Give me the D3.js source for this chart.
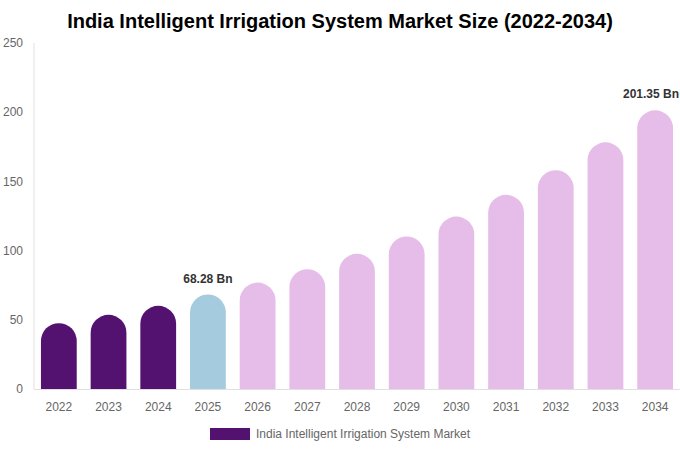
<!DOCTYPE html>
<html>
<head>
<meta charset="utf-8">
<script src="https://cdn.jsdelivr.net/npm/d3@7"></script>
<style>
  body { margin: 0; background: #fff; }
  svg { font-family: "Liberation Sans", Arial, sans-serif; }
</style>
</head>
<body>
<svg id="chart" width="680" height="450"></svg>
<script>
const years = ['2022', '2023', '2024', '2025', '2026', '2027', '2028', '2029', '2030', '2031', '2032', '2033', '2034'];
const values = [47.6, 53.6, 60.1, 68.28, 76.9, 86.6, 97.7, 110.2, 124.6, 140.3, 158.1, 178.3, 201.35];
const yTicks = [0, 50, 100, 150, 200, 250];
const labelled = { '2025': '68.28 Bn', '2034': '201.35 Bn' };

const width = 680, height = 450;
const margin = { top: 43, right: 0, bottom: 61, left: 34 };

const svg = d3.select('#chart');

const x = d3.scaleBand()
    .domain(years)
    .range([margin.left, width - margin.right])
    .paddingInner(0.28)
    .paddingOuter(0.14);

const y = d3.scaleLinear()
    .domain([0, 250])
    .range([height - margin.bottom, margin.top]);

const color = d => +d < 2025 ? '#541270' : (d === '2025' ? '#a5cbde' : '#e6bce8');

svg.append('text')
    .attr('x', width / 2)
    .attr('y', 28)
    .attr('text-anchor', 'middle')
    .attr('font-size', '20px')
    .attr('font-weight', 'bold')
    .attr('fill', '#000')
    .text('India Intelligent Irrigation System Market Size (2022-2034)');

// axes lines
svg.append('line')
    .attr('x1', margin.left).attr('x2', margin.left)
    .attr('y1', y(250)).attr('y2', y(0))
    .attr('stroke', '#e0e0e0');

svg.append('line')
    .attr('x1', margin.left).attr('x2', width)
    .attr('y1', y(0) + 0.5).attr('y2', y(0) + 0.5)
    .attr('stroke', '#e0e0e0');

svg.append('g')
    .selectAll('text')
    .data(yTicks)
    .join('text')
        .attr('x', 23)
        .attr('y', d => y(d))
        .attr('dy', '0.35em')
        .attr('text-anchor', 'end')
        .attr('font-size', '12px')
        .attr('fill', '#666')
        .text(d => d);

svg.append('g')
    .selectAll('text')
    .data(years)
    .join('text')
        .attr('x', d => x(d) + x.bandwidth() / 2)
        .attr('y', y(0) + 22)
        .attr('text-anchor', 'middle')
        .attr('font-size', '12px')
        .attr('fill', '#666')
        .text(d => d);

// rounded-top bars
const barPath = (d, i) => {
    const x0 = x(d), w = x.bandwidth(), r = w / 2;
    const top = y(values[i]), base = y(0);
    return `M${x0},${base} L${x0},${top + r} A${r},${r} 0 0 1 ${x0 + w},${top + r} L${x0 + w},${base} Z`;
};

svg.append('g')
    .selectAll('path')
    .data(years)
    .join('path')
        .attr('d', barPath)
        .attr('fill', d => color(d));

svg.append('g')
    .selectAll('text')
    .data(years.filter(d => labelled[d]))
    .join('text')
        .attr('x', d => x(d) + x.bandwidth() / 2)
        .attr('y', d => y(values[years.indexOf(d)]) - 12)
        .attr('text-anchor', 'middle')
        .attr('font-size', '12px')
        .attr('font-weight', 'bold')
        .attr('fill', '#333')
        .text(d => labelled[d])
        .each(function () {
            // keep labels inside the picture
            const b = this.getBBox();
            const over = b.x + b.width - (width - 1);
            if (over > 0) d3.select(this).attr('x', +d3.select(this).attr('x') - over);
        });

// legend
const legend = svg.append('g').attr('transform', 'translate(210,428)');
legend.append('rect')
    .attr('width', 40).attr('height', 12)
    .attr('fill', '#541270');
legend.append('text')
    .attr('x', 46).attr('y', 6)
    .attr('dy', '0.35em')
    .attr('font-size', '12px')
    .attr('fill', '#666')
    .text('India Intelligent Irrigation System Market');
</script>
</body>
</html>
